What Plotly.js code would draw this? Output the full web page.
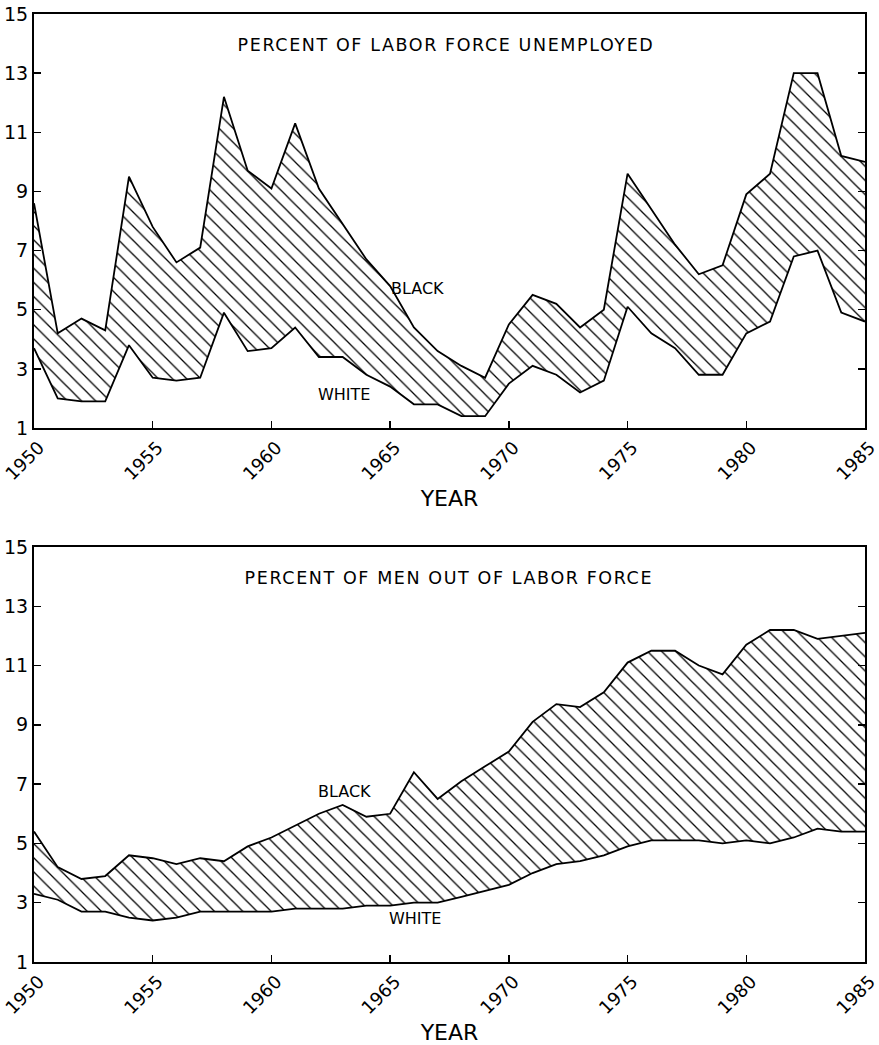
<!DOCTYPE html>
<html><head><meta charset="utf-8">
<script src="https://cdn.plot.ly/plotly-3.0.1.min.js"></script>
<style>html,body{margin:0;padding:0;background:#fff}#chart{width:879px;height:1045px}
.annotation.ttl .annotation-text{letter-spacing:1.6px}</style>
</head><body><div id="chart"></div>
<script>
const years = [1950,1951,1952,1953,1954,1955,1956,1957,1958,1959,1960,1961,1962,1963,1964,1965,1966,1967,1968,1969,1970,1971,1972,1973,1974,1975,1976,1977,1978,1979,1980,1981,1982,1983,1984,1985];
const unempBlack = [8.6,4.2,4.7,4.3,9.5,7.8,6.6,7.1,12.2,9.7,9.1,11.3,9.1,7.9,6.7,5.8,4.4,3.6,3.1,2.7,4.5,5.5,5.2,4.4,5.0,9.6,8.4,7.2,6.2,6.5,8.9,9.6,13.0,13.0,10.2,10.0];
const unempWhite = [3.7,2.0,1.9,1.9,3.8,2.7,2.6,2.7,4.9,3.6,3.7,4.4,3.4,3.4,2.8,2.4,1.8,1.8,1.4,1.4,2.5,3.1,2.8,2.2,2.6,5.1,4.2,3.7,2.8,2.8,4.2,4.6,6.8,7.0,4.9,4.6];
const olfBlack = [5.4,4.2,3.8,3.9,4.6,4.5,4.3,4.5,4.4,4.9,5.2,5.6,6.0,6.3,5.9,6.0,7.4,6.5,7.1,7.6,8.1,9.1,9.7,9.6,10.1,11.1,11.5,11.5,11.0,10.7,11.7,12.2,12.2,11.9,12.0,12.1];
const olfWhite = [3.3,3.1,2.7,2.7,2.5,2.4,2.5,2.7,2.7,2.7,2.7,2.8,2.8,2.8,2.9,2.9,3.0,3.0,3.2,3.4,3.6,4.0,4.3,4.4,4.6,4.9,5.1,5.1,5.1,5.0,5.1,5.0,5.2,5.5,5.4,5.4];
const yTicks = [1,3,5,7,9,11,13,15];
const xTicks = [1950,1955,1960,1965,1970,1975,1980,1985];
const titles = ["PERCENT OF LABOR FORCE UNEMPLOYED","PERCENT OF MEN OUT OF LABOR FORCE"];

const FONT = "DejaVu Sans, Liberation Sans, sans-serif";
const line = {color:'#000', width:1.8};
const pattern = {shape:'\\', size:10, solidity:0.13, fgcolor:'#000', bgcolor:'#fff', fillmode:'replace'};

const data = [
  {x:years, y:unempWhite, xaxis:'x', yaxis:'y', mode:'lines', line:line, hoverinfo:'skip'},
  {x:years, y:unempBlack, xaxis:'x', yaxis:'y', mode:'lines', line:line, fill:'tonexty', fillcolor:'#fff', fillpattern:pattern, hoverinfo:'skip'},
  {x:years, y:olfWhite, xaxis:'x2', yaxis:'y2', mode:'lines', line:line, hoverinfo:'skip'},
  {x:years, y:olfBlack, xaxis:'x2', yaxis:'y2', mode:'lines', line:line, fill:'tonexty', fillcolor:'#fff', fillpattern:pattern, hoverinfo:'skip'}
];

function xax(anchor){
  return {anchor:anchor, range:[1950,1985], tickvals:xTicks, ticktext:xTicks.map(String), tickangle:-45,
    ticklabeloverflow:'allow', ticklabelshift:5,
    ticks:'inside', ticklen:7, tickwidth:1.5, tickcolor:'#000', showline:true, linecolor:'#000', linewidth:2, mirror:true,
    showgrid:false, zeroline:false, tickfont:{family:FONT, size:18, color:'#000'},
    title:{text:'YEAR', font:{family:FONT, size:22, color:'#000'}, standoff:7}};
}
function yax(anchor, domain){
  return {anchor:anchor, domain:domain, range:[1,15], tickvals:yTicks, ticktext:yTicks.map(String),
    ticklabeloverflow:'allow',
    ticks:'inside', ticklen:7, tickwidth:1.5, tickcolor:'#000', showline:true, linecolor:'#000', linewidth:2, mirror:'ticks',
    showgrid:false, zeroline:false, tickfont:{family:FONT, size:19, color:'#000'}};
}

const ann = [
  {xref:'x', yref:'y', x:1959.65, y:13.95, text:titles[0], size:17.5},
  {xref:'x2', yref:'y2', x:1959.94, y:13.95, text:titles[1], size:17.5},
  {xref:'x', yref:'y', x:1965.0, y:5.72, text:'BLACK', size:16},
  {xref:'x', yref:'y', x:1961.9, y:2.13, text:'WHITE', size:16},
  {xref:'x2', yref:'y2', x:1961.9, y:6.76, text:'BLACK', size:16},
  {xref:'x2', yref:'y2', x:1964.9, y:2.47, text:'WHITE', size:16}
].map(a => ({xref:a.xref, yref:a.yref, x:a.x, y:a.y, text:a.text, showarrow:false, xanchor:'left', yanchor:'middle',
  borderpad:0, font:{family:FONT, size:a.size, color:'#000'}}));

const layout = {
  width:879, height:1045, paper_bgcolor:'#fff', plot_bgcolor:'#fff', showlegend:false,
  margin:{l:34, r:14, t:14, b:83},
  xaxis:xax('y'), yaxis:yax('x',[0.5633,1]),
  xaxis2:xax('y2'), yaxis2:yax('x2',[0,0.4378]),
  annotations:ann
};
Plotly.newPlot('chart', data, layout, {staticPlot:true}).then(gd => {
  const nodes = gd.querySelectorAll('.annotation');
  nodes.forEach((n,i) => { if (i < 2) n.classList.add('ttl'); });
});
</script></body></html>
